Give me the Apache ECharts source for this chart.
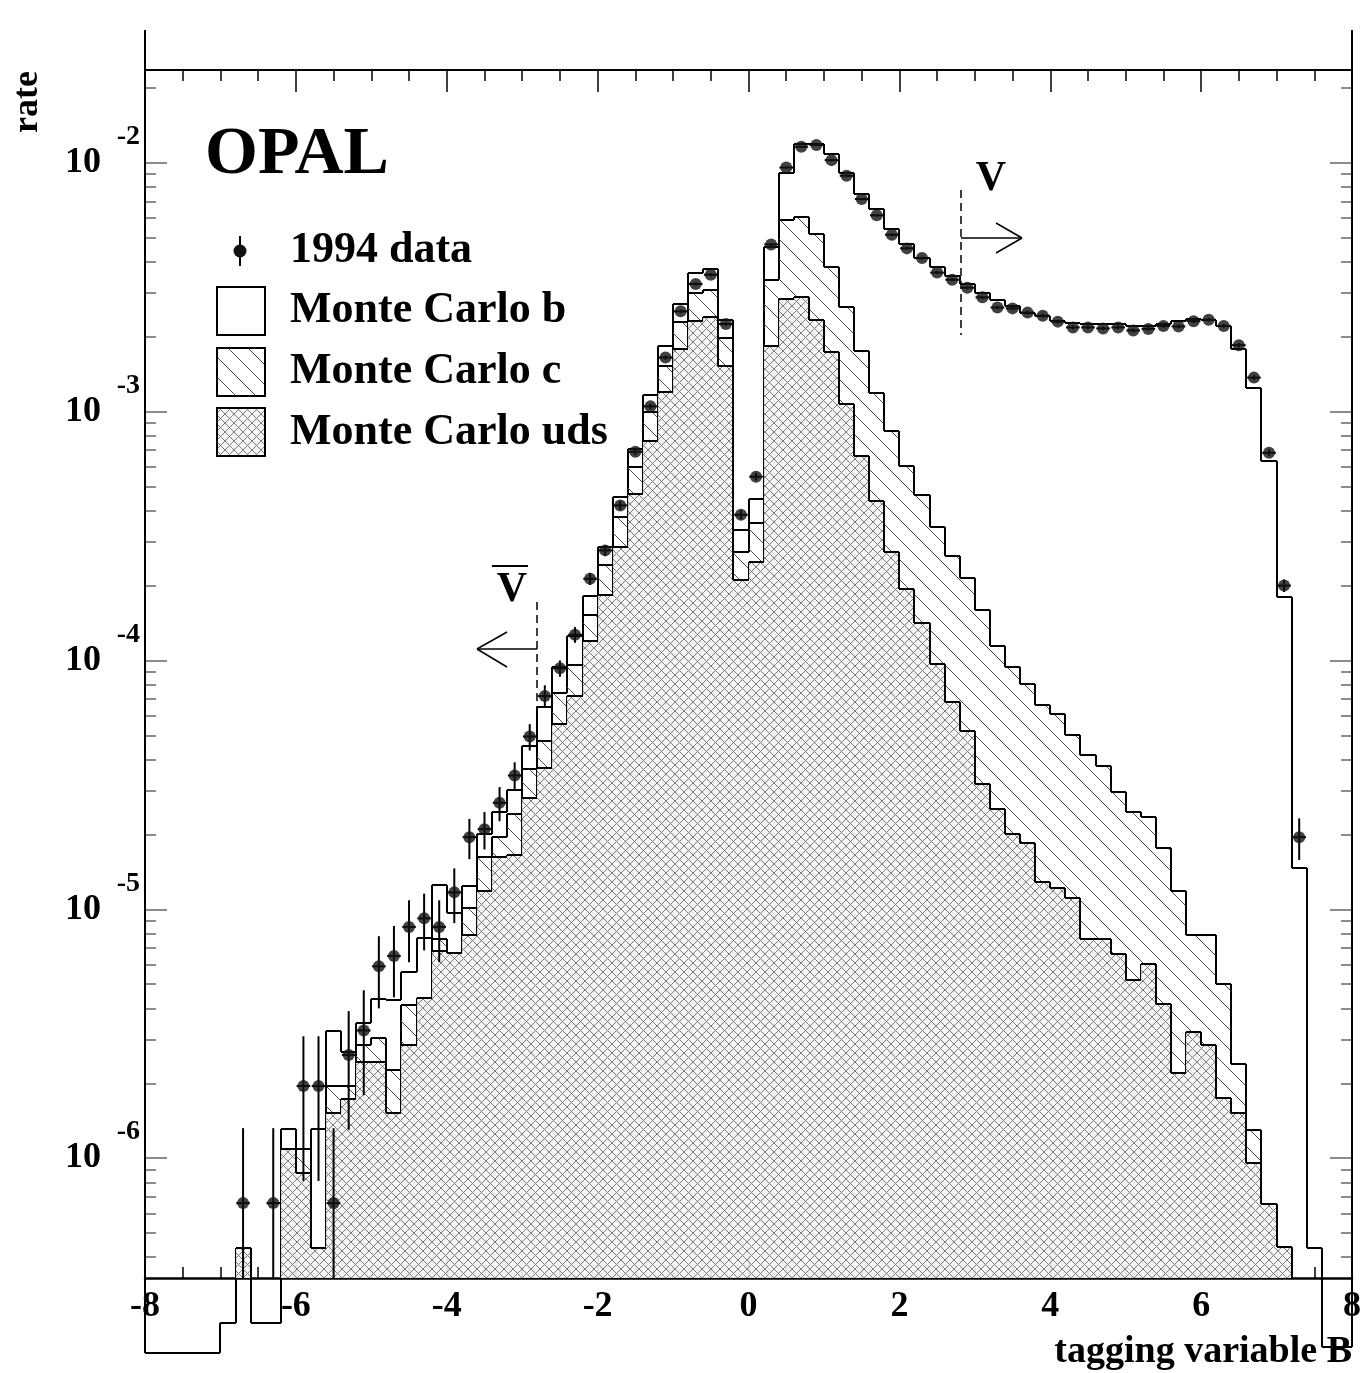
<!DOCTYPE html>
<html><head><meta charset="utf-8">
<script src="https://cdn.jsdelivr.net/npm/echarts@6/dist/echarts.min.js"></script>
<style>html,body{margin:0;padding:0;background:#fff}#c{width:1367px;height:1373px}</style>
</head><body><div id="c"></div>
<script>
// ---------- axis / binning ----------
const X_MIN = -8, X_MAX = 8, BIN_WIDTH = 0.2;
const Y_MIN = 3.3e-7, Y_MAX = 0.0236;
const yMajorTicks = [1e-6, 1e-5, 1e-4, 1e-3, 1e-2];
const yMinorTicks = [4e-7,5e-7,6e-7,7e-7,8e-7,9e-7,
  2e-6,3e-6,4e-6,5e-6,6e-6,7e-6,8e-6,9e-6,
  2e-5,3e-5,4e-5,5e-5,6e-5,7e-5,8e-5,9e-5,
  2e-4,3e-4,4e-4,5e-4,6e-4,7e-4,8e-4,9e-4,
  2e-3,3e-3,4e-3,5e-3,6e-3,7e-3,8e-3,9e-3, 2e-2];

// ---------- Monte Carlo stacked histograms (cumulative), 80 bins of 0.2 from -8 ----------
// total = b + c + uds
const mcTotal = [
 1.65e-7,1.65e-7,1.65e-7,1.65e-7,1.65e-7,2.17e-7,4.35e-7,2.17e-7,2.17e-7,1.31e-6,
 1.09e-6,1.31e-6,3.24e-6,2.67e-6,3.48e-6,4.35e-6,4.32e-6,5.6e-6,7.7e-6,1.25e-5,
 9.7e-6,1.24e-5,2.01e-5,2.47e-5,3.02e-5,4.55e-5,6.5e-5,9.4e-5,1.26e-4,1.82e-4,
 2.85e-4,4.53e-4,7.08e-4,1.17e-3,1.84e-3,2.72e-3,3.62e-3,3.76e-3,2.34e-3,3.35e-4,
 4.46e-4,4.6e-3,9.14e-3,1.19e-2,1.195e-2,1.08e-2,9.14e-3,7.49e-3,6.52e-3,5.42e-3,
 4.7e-3,4.16e-3,3.8e-3,3.52e-3,3.26e-3,2.99e-3,2.81e-3,2.67e-3,2.5e-3,2.43e-3,
 2.31e-3,2.28e-3,2.26e-3,2.24e-3,2.24e-3,2.21e-3,2.21e-3,2.25e-3,2.31e-3,2.36e-3,
 2.34e-3,2.21e-3,1.79e-3,1.25e-3,6.35e-4,1.8e-4,1.47e-5,4.35e-7,1.74e-7,1.74e-7];
// c + uds
const mcCharmUds = [
 null,null,null,null,null,null,4.35e-7,null,null,1.09e-6,
 1.09e-6,4.35e-7,1.95e-6,1.95e-6,2.84e-6,3.03e-6,2.26e-6,4.12e-6,4.4e-6,7.6e-6,
 6.7e-6,1.01e-5,1.62e-5,1.95e-5,2.42e-5,3.65e-5,4.76e-5,7.4e-5,9.55e-5,1.52e-4,
 2.41e-4,3.76e-4,5.98e-4,1.0e-3,1.53e-3,2.3e-3,3.01e-3,3.08e-3,1.98e-3,2.72e-4,
 3.56e-4,3.38e-3,5.89e-3,6.03e-3,5.17e-3,3.83e-3,2.63e-3,1.75e-3,1.19e-3,8.35e-4,
 6.03e-4,4.62e-4,3.45e-4,2.62e-4,2.14e-4,1.6e-4,1.14e-4,9.42e-5,8.07e-5,6.6e-5,
 6.1e-5,5.04e-5,4.19e-5,3.77e-5,2.95e-5,2.46e-5,2.34e-5,1.77e-5,1.19e-5,7.87e-6,
 7.87e-6,4.99e-6,2.39e-6,1.3e-6,6.55e-7,4.4e-7,null,null,null,null];
// uds
const mcUds = [
 null,null,null,null,null,null,4.35e-7,null,null,1.09e-6,
 8.7e-7,4.35e-7,1.52e-6,1.73e-6,2.43e-6,2.43e-6,1.52e-6,2.84e-6,4.4e-6,6.8e-6,
 6.7e-6,7.87e-6,1.19e-5,1.63e-5,1.66e-5,2.8e-5,3.69e-5,5.57e-5,7.2e-5,1.2e-4,
 1.84e-4,2.85e-4,4.67e-4,7.65e-4,1.2e-3,1.79e-3,2.32e-3,2.39e-3,1.53e-3,2.1e-4,
 2.48e-4,1.84e-3,2.84e-3,2.9e-3,2.34e-3,1.73e-3,1.07e-3,6.64e-4,4.36e-4,2.73e-4,
 1.93e-4,1.42e-4,9.64e-5,6.8e-5,5.2e-5,3.19e-5,2.52e-5,2.0e-5,1.84e-5,1.29e-5,
 1.22e-5,1.11e-5,7.58e-6,7.58e-6,6.6e-6,5.22e-6,6.05e-6,4.15e-6,2.19e-6,3.22e-6,
 2.85e-6,1.75e-6,1.52e-6,9.6e-7,6.55e-7,4.4e-7,null,null,null,null];

// ---------- 1994 data ----------
const data1994 = [
 null,null,null,null,null,null,6.6e-7,null,6.6e-7,null,
 1.95e-6,1.95e-6,6.6e-7,2.6e-6,3.26e-6,5.9e-6,6.5e-6,8.5e-6,9.2e-6,8.5e-6,
 1.17e-5,1.95e-5,2.1e-5,2.68e-5,3.45e-5,4.95e-5,7.2e-5,9.3e-5,1.27e-4,2.13e-4,
 2.77e-4,4.2e-4,6.9e-4,1.05e-3,1.65e-3,2.53e-3,3.26e-3,3.55e-3,2.25e-3,3.85e-4,
 5.48e-4,4.7e-3,9.57e-3,1.16e-2,1.18e-2,1.025e-2,8.87e-3,7.15e-3,6.15e-3,5.14e-3,
 4.53e-3,4.14e-3,3.62e-3,3.39e-3,3.15e-3,2.88e-3,2.62e-3,2.6e-3,2.5e-3,2.43e-3,
 2.3e-3,2.18e-3,2.18e-3,2.16e-3,2.18e-3,2.12e-3,2.15e-3,2.21e-3,2.2e-3,2.31e-3,
 2.34e-3,2.21e-3,1.85e-3,1.37e-3,6.83e-4,2.0e-4,1.95e-5,null,null,null];
const data1994Err = [
 null,null,null,null,null,null,6.6e-7,null,6.6e-7,null,
 1.14e-6,1.14e-6,6.6e-7,1.3e-6,1.47e-6,1.9e-6,2.07e-6,2.37e-6,2.36e-6,2.37e-6,
 2.9e-6,3.6e-6,3.6e-6,4.2e-6,4.5e-6,6e-6,7.5e-6,7e-6,9.2e-6,1.19e-5,
 1.35e-5,1.67e-5,2.13e-5,2.63e-5,3.3e-5,4.1e-5,4.6e-5,4.8e-5,3.9e-5,1.6e-5,
 1.9e-5,5.6e-5,7.9e-5,8.7e-5,8.8e-5,8.2e-5,7.7e-5,6.9e-5,6.4e-5,5.8e-5,
 5.5e-5,5.2e-5,4.9e-5,4.7e-5,4.6e-5,4.4e-5,4.2e-5,4.1e-5,4.1e-5,4.0e-5,
 3.9e-5,3.8e-5,3.8e-5,3.8e-5,3.8e-5,3.7e-5,3.8e-5,3.8e-5,3.8e-5,3.9e-5,
 3.9e-5,3.8e-5,3.5e-5,3.0e-5,2.1e-5,1.15e-5,3.7e-6,null,null,null];

// ---------- styles ----------
const SERIF = "'Liberation Serif','DejaVu Serif',serif";
function makePattern(kind){
  const s = kind === 'c' ? 20 : 9;
  const cv = document.createElement('canvas'); cv.width = s; cv.height = s;
  const g = cv.getContext('2d');
  if (kind === 'x') { g.fillStyle = 'rgba(244,244,244,0.9)'; g.fillRect(0,0,s,s); }
  g.strokeStyle = kind === 'c' ? '#4a4a4a' : '#7c7c7c';
  g.lineWidth = 1;
  g.beginPath();
  g.moveTo(-2,-2); g.lineTo(s+2,s+2);
  g.moveTo(-2,s-2); g.lineTo(2,s+2);
  g.moveTo(s-2,-2); g.lineTo(s+2,2);
  if (kind === 'x'){
    g.moveTo(s+2,-2); g.lineTo(-2,s+2);
    g.moveTo(2,-2); g.lineTo(-2,2);
    g.moveTo(s+2,s-2); g.lineTo(s-2,s+2);
  }
  g.stroke();
  return {image: cv, repeat: 'repeat'};
}
const hatchC = makePattern('c');
const hatchUds = makePattern('x');

function binItems(vals){
  return vals.map((v,i) => [X_MIN + i*BIN_WIDTH, X_MIN + (i+1)*BIN_WIDTH,
    v == null ? NaN : v, (i+1 < vals.length && vals[i+1] != null) ? vals[i+1] : NaN]);
}
function histRender(fill){
  return function(params, api){
    const lo = api.value(0), hi = api.value(1), v = api.value(2), vn = api.value(3);
    const ok = x => isFinite(x) && x > 0;
    const yb = Math.round(api.coord([lo, Y_MIN])[1]);
    const yOf = val => ok(val) ? Math.round(api.coord([lo, val])[1]) : yb;
    const xl = Math.round(api.coord([lo, Y_MIN])[0]), xh = Math.round(api.coord([hi, Y_MIN])[0]);
    const st = {stroke:'#000', lineWidth:2, fill:null};
    const ch = [];
    if (ok(v)) {
      const yv = yOf(v);
      if (fill) ch.push({type:'rect', shape:{x:xl, y:yv, width:xh-xl, height:yb-yv}, style:{fill:fill, stroke:null}});
      ch.push({type:'line', shape:{x1:xl, y1:yv, x2:xh, y2:yv}, style:st});
      if (params.dataIndex === 0) ch.push({type:'line', shape:{x1:xl, y1:yb, x2:xl, y2:yv}, style:st});
    }
    const y1 = yOf(v), y2 = yOf(vn);
    if (y1 !== y2) ch.push({type:'line', shape:{x1:xh, y1:y1, x2:xh, y2:y2}, style:st});
    return {type:'group', children:ch};
  };
}

const dataPoints = [], dataErrItems = [];
data1994.forEach((v,i) => {
  if (v == null) return;
  const xc = X_MIN + (i+0.5)*BIN_WIDTH;
  dataPoints.push([xc, v]);
  dataErrItems.push([xc, v, data1994Err[i]]);
});

const chart = echarts.init(document.getElementById('c'));
const axisX = (pos, showLabel) => ({
  type:'value', min:X_MIN, max:X_MAX, interval:2, position:pos,
  axisLine:{show:true, onZero:false, lineStyle:{color:'#000', width: pos==='bottom'?2.5:2}},
  axisTick:{show:true, inside:true, length:22, lineStyle:{color:'#000', width:1.5}},
  minorTick:{show:true, splitNumber:4, length:11, lineStyle:{color:'#000', width:1.5}},
  splitLine:{show:false}, minorSplitLine:{show:false},
  axisLabel:{show:showLabel, margin:11, fontFamily:SERIF, fontWeight:'bold', fontSize:36, color:'#000',
    formatter: v => String(v)}
});
// label: 'base' = "10" part, 'exp' = superscript exponent, null = none
const axisY = (pos, major, label) => {
  const ax = {
    type:'log', logBase:10, min:Y_MIN, max:Y_MAX, position:pos,
    axisLine:{show:major, onZero:false, lineStyle:{color:'#000', width:2}},
    axisTick:{show:true, inside:true, length: major?22:11, customValues: major?yMajorTicks:yMinorTicks,
      lineStyle:{color:'#666', width:1.5}},
    minorTick:{show:false}, splitLine:{show:false},
    axisLabel:{show:false}
  };
  if (label === 'base') ax.axisLabel = {show:true, customValues:yMajorTicks, margin:44,
    fontFamily:SERIF, fontWeight:'bold', fontSize:36, color:'#000', formatter: () => '10'};
  if (label === 'exp') ax.axisLabel = {show:true, customValues:yMajorTicks, margin:5,
    verticalAlign:'bottom', lineHeight:52,
    fontFamily:SERIF, fontWeight:'bold', fontSize:28, color:'#000',
    formatter: v => String(Math.round(Math.log10(v)))};
  return ax;
};

const txt = (t, x, y, size, extra) => ({type:'text', x:x, y:y, z:100, style:Object.assign({
  text:t, font:'bold ' + size + 'px ' + SERIF, fill:'#000', textAlign:'left', textVerticalAlign:'middle'}, extra||{})});
const ln = (x1,y1,x2,y2,w,dash) => ({type:'line', z:100, shape:{x1,y1,x2,y2},
  style:{stroke:'#000', lineWidth:w||2, lineDash:dash||null}});

chart.setOption({
  animation:false,
  backgroundColor:'#fff',
  grid:{left:145, right:15, top:70, bottom:95},
  xAxis:[axisX('bottom', true), axisX('top', false)],
  yAxis:[axisY('left', true, 'base'), axisY('left', false, 'exp'), axisY('right', true, null), axisY('right', false, null)],
  series:[
    {type:'custom', name:'Monte Carlo b', clip:false, z:2, data:binItems(mcTotal),
      encode:{x:[0,1], y:[2,3]}, renderItem:histRender(null)},
    {type:'custom', name:'Monte Carlo c', clip:true, z:3, data:binItems(mcCharmUds),
      encode:{x:[0,1], y:[2,3]}, renderItem:histRender(hatchC)},
    {type:'custom', name:'Monte Carlo uds', clip:true, z:4, data:binItems(mcUds),
      encode:{x:[0,1], y:[2,3]}, renderItem:histRender(hatchUds)},
    {type:'custom', name:'errors', clip:true, z:5, data:dataErrItems, encode:{x:0, y:1},
      renderItem:function(params, api){
        const xc = api.value(0), v = api.value(1), e = api.value(2);
        const p = api.coord([xc, v]);
        const top = api.coord([xc, v+e])[1];
        const bot = (v-e) > Y_MIN ? api.coord([xc, v-e])[1] : api.coord([xc, Y_MIN])[1];
        const xl = api.coord([xc-0.09, v])[0], xr = api.coord([xc+0.09, v])[0];
        const st = {stroke:'#000', lineWidth:2};
        return {type:'group', children:[
          {type:'line', shape:{x1:p[0], y1:top, x2:p[0], y2:bot}, style:st},
          {type:'line', shape:{x1:xl, y1:p[1], x2:xr, y2:p[1]}, style:st}]};
      }},
    {type:'scatter', name:'1994 data', z:6, data:dataPoints, symbol:'circle', symbolSize:12,
      itemStyle:{color:'#111'}}
  ],
  graphic:[
    // frame extensions
    ln(145,30,145,1353,2), ln(1352,30,1352,1347,2),
    // titles
    txt('OPAL', 205, 155, 68),
    {type:'text', x:28, y:102, rotation:Math.PI/2, z:100,
      style:{text:'rate', font:'bold 36px ' + SERIF, fill:'#000', textAlign:'center', textVerticalAlign:'middle'}},
    txt('tagging variable B', 1352, 1352, 38, {textAlign:'right'}),
    // legend
    ln(240,236,240,266,2),
    {type:'circle', z:100, shape:{cx:240, cy:251, r:6.5}, style:{fill:'#111'}},
    txt('1994 data', 290, 251, 44),
    {type:'rect', z:100, shape:{x:217, y:287, width:48, height:48}, style:{fill:'#fff', stroke:'#000', lineWidth:2}},
    txt('Monte Carlo b', 290, 311, 44),
    {type:'rect', z:100, shape:{x:217, y:348, width:48, height:48}, style:{fill:hatchC, stroke:'#000', lineWidth:2}},
    txt('Monte Carlo c', 290, 372, 44),
    {type:'rect', z:100, shape:{x:217, y:408, width:48, height:48}, style:{fill:hatchUds, stroke:'#000', lineWidth:2}},
    txt('Monte Carlo uds', 290, 433, 44),
    // V cut
    txt('V', 991, 179, 42, {textAlign:'center'}),
    ln(961,190,961,335,1.5,[8,5]),
    ln(961,238,1022,238,1.5), ln(1022,238,996,223,1.5), ln(1022,238,996,253,1.5),
    // V-bar cut
    txt('V', 512, 590, 42, {textAlign:'center'}),
    ln(492,566,528,566,2),
    ln(537,602,537,707,1.5,[8,5]),
    ln(477,649,537,649,1.5), ln(477,649,507,632,1.5), ln(477,649,507,667,1.5)
  ]
});
</script></body></html>
